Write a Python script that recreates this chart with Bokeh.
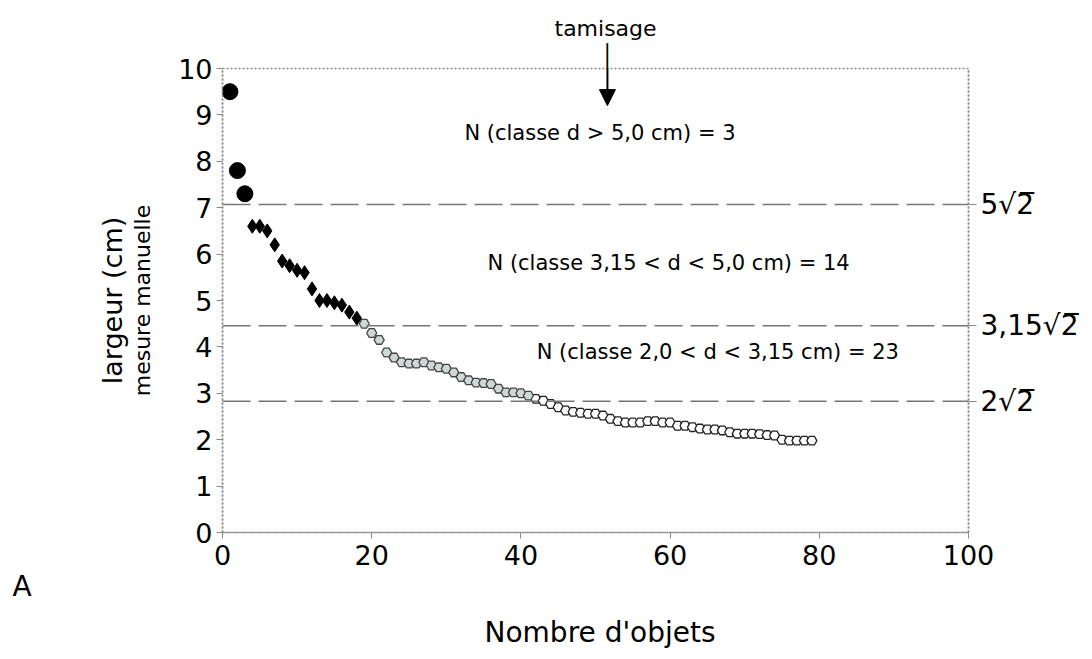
import math
from bokeh.plotting import figure
from bokeh.models import (Span, Label, Arrow, NormalHead, LinearAxis, FixedTicker,
                          Range1d, Title)
from bokeh.embed import file_html
from bokeh.resources import INLINE

# ---- data ----
big_x = [1, 2, 3]
big_y = [9.5, 7.8, 7.3]

black_x = list(range(4, 19))
black_y = [6.6, 6.6, 6.5, 6.2, 5.85, 5.75, 5.65, 5.6, 5.25, 5.0, 5.0, 4.95, 4.9, 4.75, 4.62]

gray_x = list(range(19, 42))
gray_y = [4.5, 4.3, 4.15, 3.88, 3.77, 3.67, 3.64, 3.64, 3.67, 3.6, 3.56, 3.53,
          3.45, 3.35, 3.28, 3.23, 3.22, 3.2, 3.1, 3.02, 3.02, 3.0, 2.95]

white_x = list(range(42, 80))
white_y = [2.88, 2.84, 2.77, 2.7, 2.63, 2.6, 2.58, 2.56, 2.56, 2.52, 2.45, 2.4,
           2.37, 2.37, 2.37, 2.4, 2.4, 2.37, 2.37, 2.3, 2.3, 2.27, 2.24, 2.22,
           2.22, 2.2, 2.16, 2.13, 2.13, 2.13, 2.12, 2.1, 2.09, 2.0, 1.98, 1.98,
           1.98, 1.98]

class_limits = [5 * math.sqrt(2), 3.15 * math.sqrt(2), 2 * math.sqrt(2)]
class_labels = ["5\u221a2\u0305", "3,15\u221a2\u0305", "2\u221a2\u0305"]
class_texts = ["N (classe d > 5,0 cm) = 3",
               "N (classe 3,15 < d < 5,0 cm) = 14",
               "N (classe 2,0 < d < 3,15 cm) = 23"]
x_ticks = [0, 20, 40, 60, 80, 100]
y_ticks = list(range(0, 11))

FONT = "DejaVu Sans"
GRID = "#8a8a8a"

p = figure(width=1092, height=659, output_backend="svg", toolbar_location=None,
           x_range=Range1d(0, 100), y_range=Range1d(0, 10),
           min_border_left=222, min_border_right=124, min_border_top=68,
           min_border_bottom=127)
p.grid.visible = False
p.outline_line_color = GRID
p.outline_line_dash = "2 2"
p.outline_line_width = 1.5
p.background_fill_color = "white"
p.border_fill_color = "white"

for ax in (p.xaxis[0], p.yaxis[0]):
    ax.axis_line_color = GRID
    ax.axis_line_dash = "2 2"
    ax.axis_line_width = 1.5
    ax.major_tick_line_color = GRID
    ax.major_tick_in = 0
    ax.major_tick_out = 6
    ax.minor_tick_line_color = None
    ax.major_label_text_font = FONT
    ax.major_label_text_font_size = "27px"
    ax.major_label_text_color = "black"
p.xaxis[0].ticker = FixedTicker(ticks=x_ticks)
p.yaxis[0].ticker = FixedTicker(ticks=y_ticks)
p.xaxis[0].major_label_standoff = 6
p.yaxis[0].major_label_standoff = 4

# y axis labels
p.yaxis[0].axis_label = "mesure manuelle"
p.yaxis[0].axis_label_text_font = FONT
p.yaxis[0].axis_label_text_font_size = "22px"
p.yaxis[0].axis_label_text_font_style = "normal"
p.yaxis[0].axis_label_text_color = "black"
p.yaxis[0].axis_label_standoff = 20
p.add_layout(Title(text="largeur (cm)", align="center", text_font=FONT,
                   text_font_size="27px", text_font_style="normal",
                   text_color="black", standoff=0), "left")

# below: "A" then "Nombre d'objets"
p.add_layout(Title(text="A", align="left", offset=-210, text_font=FONT,
                   text_font_size="28px", text_font_style="normal",
                   text_color="black", standoff=0), "below")
p.add_layout(Title(text="Nombre d'objets", align="left", offset=262, text_font=FONT,
                   text_font_size="28px", text_font_style="normal",
                   text_color="black", standoff=22), "below")

# above: arrow shaft then "tamisage"
p.add_layout(Title(text="\u2502", align="left", offset=378, text_font=FONT,
                   text_font_size="22px", text_font_style="normal",
                   text_color="black", standoff=0), "above")
p.add_layout(Title(text="tamisage", align="left", offset=332, text_font=FONT,
                   text_font_size="22px", text_font_style="normal",
                   text_color="black", standoff=2), "above")

# right axis with class limits
rax = LinearAxis(ticker=FixedTicker(ticks=[round(v, 4) for v in class_limits]),
                 major_label_overrides={round(v, 4): t for v, t in zip(class_limits, class_labels)})
rax.axis_line_color = GRID
rax.axis_line_dash = "2 2"
rax.axis_line_width = 1.5
rax.major_tick_line_color = GRID
rax.major_tick_in = 0
rax.major_tick_out = 8
rax.minor_tick_line_color = None
rax.major_label_text_font = FONT
rax.major_label_text_font_size = "28px"
rax.major_label_text_color = "black"
rax.major_label_standoff = 4
p.add_layout(rax, "right")

for v in class_limits:
    p.add_layout(Span(location=v, dimension="width", line_color="#777777",
                      line_dash="28 8", line_width=1.5))

# points
p.scatter(white_x, white_y, marker="hex", size=10, fill_color="white",
          line_color="#222222", line_width=1.3)
p.scatter(gray_x, gray_y, marker="hex", size=10, fill_color="#cfd7d7",
          line_color="#444444", line_width=1.3)
p.scatter(black_x, black_y, marker="diamond", size=14, fill_color="black",
          line_color="black")
p.scatter(big_x, big_y, marker="circle", size=16, fill_color="black",
          line_color="black")

for (tx, ty), t in zip([(50.6, 8.62), (59.8, 5.8), (66.4, 3.88)], class_texts):
    p.add_layout(Label(x=tx, y=ty, text=t, text_font=FONT, text_font_size="21px",
                       text_align="center", text_baseline="middle", text_color="black"))

p.add_layout(Arrow(end=NormalHead(size=16, fill_color="black", line_color="black"),
                   x_start=51.6, y_start=10.0, x_end=51.6, y_end=9.2,
                   line_color="black", line_width=2))

open("out.html", "w").write(file_html(p, INLINE))
